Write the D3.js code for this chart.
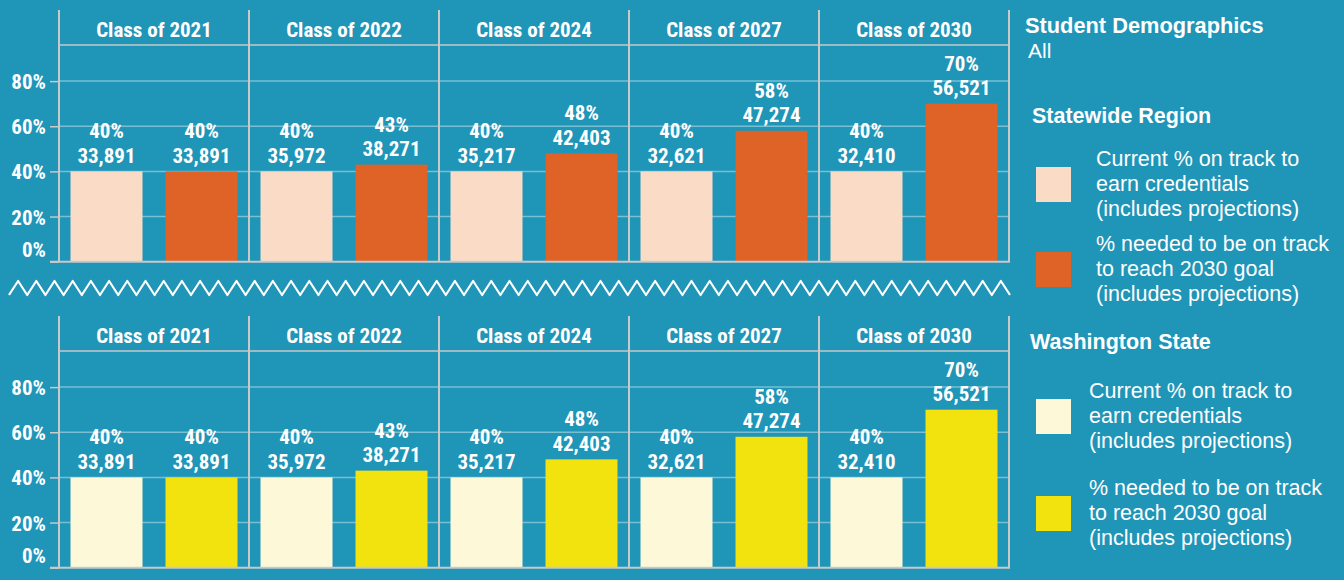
<!DOCTYPE html>
<html lang="en">
<head>
<meta charset="UTF-8">
<script src="https://d3js.org/d3.v7.min.js"></script>
<title>Credentials on track</title>
<style>
  html, body { margin: 0; padding: 0; background: #1f95b8; }
  svg { display: block; }
</style>
</head>
<body>
<div id="container"></div>
<script>
// data
const classes = ["Class of 2021", "Class of 2022", "Class of 2024", "Class of 2027", "Class of 2030"];
const currentPct = [40, 40, 40, 40, 40];
const currentCount = [33891, 35972, 35217, 32621, 32410];
const neededPct = [40, 43, 48, 58, 70];
const neededCount = [33891, 38271, 42403, 47274, 56521];
const yTicks = [0, 20, 40, 60, 80];
const panelTitles = ["Statewide Region", "Washington State"];
const panelColors = [["#f9dbc6", "#df6227"], ["#fdf8d8", "#f2e20e"]];
const legendLines = [
  ["Current % on track to", "earn credentials", "(includes projections)"],
  ["% needed to be on track", "to reach 2030 goal", "(includes projections)"]
];

const width = 1344, height = 580;
const bg = "#1f95b8";
const border = "#c9c9c9";
const grid = "rgba(255,255,255,0.4)";
const narrow = '"Liberation Sans Narrow", "Arial Narrow", "Roboto Condensed", sans-serif';
const sans = '"Liberation Sans", Arial, Helvetica, sans-serif';

const svg = d3.select("#container").append("svg")
  .attr("width", width).attr("height", height)
  .style("background", bg);

const x = d3.scaleBand().domain(classes).range([59, 1009]).padding(0);
const xs = d3.scaleBand().domain(["current", "needed"])
  .range([0, x.bandwidth()]).paddingInner(0.242).paddingOuter(0.121);
const fmt = d3.format(",");

function drawPanel(top, idx) {
  const g = svg.append("g").attr("class", "panel");
  const headerY = top + 35;
  const base = top + 251.7;
  const y = d3.scaleLinear().domain([0, 96]).range([base, headerY]);

  // gridlines
  g.append("g").selectAll("line").data(yTicks.filter(d => d > 0)).join("line")
    .attr("x1", 59).attr("x2", 1009)
    .attr("y1", d => y(d)).attr("y2", d => y(d))
    .attr("stroke", grid).attr("stroke-width", 1.5);

  // header line
  g.append("line").attr("x1", 59).attr("x2", 1009)
    .attr("y1", headerY).attr("y2", headerY)
    .attr("stroke", border).attr("stroke-width", 1.5);

  // header labels
  g.append("g").selectAll("text").data(classes).join("text")
    .attr("x", d => x(d) + x.bandwidth() / 2)
    .attr("y", top + 27)
    .attr("text-anchor", "middle")
    .style("font-family", narrow).style("font-weight", "bold")
    .style("font-size", "21px").style("fill", "#fff")
    .text(d => d);

  // y axis
  const axis = g.append("g").attr("transform", "translate(59,0)")
    .call(d3.axisLeft(y).tickValues(yTicks).tickFormat(d => d + "%").tickSize(9).tickPadding(4));
  axis.select(".domain").remove();
  axis.selectAll(".tick line").attr("stroke", border).attr("stroke-width", 1.5);
  axis.selectAll(".tick text")
    .attr("fill", "#fff")
    .style("font-family", narrow).style("font-weight", "bold").style("font-size", "21px")
    .attr("dy", d => d === 0 ? "-0.25em" : "0.36em");

  // bars
  const rows = classes.map((c, i) => ({
    cls: c,
    vals: [
      { key: "current", pct: currentPct[i], count: currentCount[i] },
      { key: "needed", pct: neededPct[i], count: neededCount[i] }
    ]
  }));
  const col = g.append("g").selectAll("g").data(rows).join("g")
    .attr("transform", d => `translate(${x(d.cls)},0)`);
  col.selectAll("rect").data(d => d.vals).join("rect")
    .attr("x", d => xs(d.key))
    .attr("width", xs.bandwidth())
    .attr("y", d => y(d.pct))
    .attr("height", d => base - y(d.pct))
    .attr("fill", (d, i) => panelColors[idx][i]);
  const lbl = col.selectAll("text").data(d => d.vals).join("text")
    .attr("text-anchor", "middle")
    .style("font-family", narrow).style("font-weight", "bold")
    .style("font-size", "21px").style("fill", "#fff");
  lbl.append("tspan").attr("x", d => xs(d.key) + xs.bandwidth() / 2)
    .attr("y", d => y(d.pct) - 33).text(d => d.pct + "%");
  lbl.append("tspan").attr("x", d => xs(d.key) + xs.bandwidth() / 2)
    .attr("y", d => y(d.pct) - 8.5).text(d => fmt(d.count));

  // frame: verticals and baseline
  g.append("g").selectAll("line").data(d3.range(classes.length + 1)).join("line")
    .attr("x1", i => 59 + i * x.bandwidth()).attr("x2", i => 59 + i * x.bandwidth())
    .attr("y1", top).attr("y2", base)
    .attr("stroke", border).attr("stroke-width", 2);
  g.append("line").attr("x1", 50).attr("x2", 1010)
    .attr("y1", base).attr("y2", base)
    .attr("stroke", border).attr("stroke-width", 2);
}

drawPanel(10, 0);
drawPanel(316, 1);

// axis break zigzag
const zz = d3.range(0, 111).map(i => [9 + i * 9.1, i % 2 === 0 ? 295 : 281]);
svg.append("path")
  .attr("d", d3.line()(zz))
  .attr("fill", "none").attr("stroke", "#fff").attr("stroke-width", 2.2)
  .attr("stroke-linejoin", "round");

// legends
const leg = svg.append("g").style("fill", "#fff");
leg.append("text").attr("x", 1025).attr("y", 33)
  .style("font-family", sans).style("font-weight", "bold").style("font-size", "21.8px")
  .text("Student Demographics");
leg.append("text").attr("x", 1028).attr("y", 58)
  .style("font-family", sans).style("font-size", "21px")
  .text("All");

const legendSpecs = [
  { title: panelTitles[0], tx: 1032, ty: 123, lx: 1096, items: [166, 251] },
  { title: panelTitles[1], tx: 1030, ty: 349, lx: 1089, items: [398, 495] }
];
legendSpecs.forEach((s, p) => {
  leg.append("text").attr("x", s.tx).attr("y", s.ty)
    .style("font-family", sans).style("font-weight", "bold").style("font-size", "21.5px")
    .text(s.title);
  s.items.forEach((yy, k) => {
    leg.append("rect").attr("x", 1036).attr("y", yy + 1)
      .attr("width", 35).attr("height", 35)
      .attr("fill", panelColors[p][k]);
    const t = leg.append("text")
      .style("font-family", sans).style("font-size", "21.5px");
    legendLines[k].forEach((line, j) => {
      t.append("tspan").attr("x", s.lx).attr("y", yy + j * 25).text(line);
    });
  });
});
</script>
</body>
</html>
